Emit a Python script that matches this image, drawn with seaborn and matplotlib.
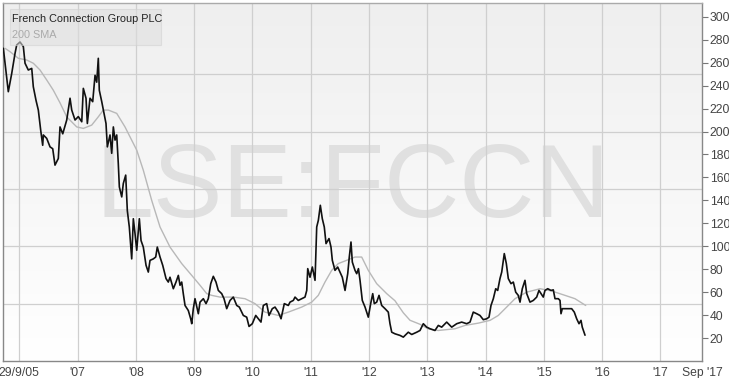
import numpy as np
import pandas as pd
import matplotlib
matplotlib.use("Agg")
import matplotlib.pyplot as plt
from matplotlib.colors import LinearSegmentedColormap
from matplotlib.patches import Rectangle
import seaborn as sns

# ---- data (decimal years, pence) ----
price_t = [2005.726, 2005.811, 2005.870, 2005.926, 2005.955, 2006.012, 2006.069, 2006.098, 2006.154, 2006.213,
           2006.240, 2006.287, 2006.326, 2006.367, 2006.401, 2006.412, 2006.470, 2006.527, 2006.573, 2006.612,
           2006.669, 2006.698, 2006.745, 2006.813, 2006.870, 2006.899, 2006.956, 2007.012, 2007.071, 2007.098,
           2007.144, 2007.167, 2007.213, 2007.259, 2007.299, 2007.328, 2007.355, 2007.372, 2007.414, 2007.453,
           2007.487, 2007.510, 2007.556, 2007.585, 2007.613, 2007.642, 2007.671, 2007.698, 2007.716, 2007.757,
           2007.784, 2007.825, 2007.853, 2007.887, 2007.928, 2007.956, 2007.985, 2008.014, 2008.059, 2008.088,
           2008.127, 2008.174, 2008.213, 2008.242, 2008.299, 2008.340, 2008.367, 2008.414, 2008.460, 2008.517,
           2008.556, 2008.585, 2008.642, 2008.688, 2008.728, 2008.757, 2008.786, 2008.813, 2008.843, 2008.899,
           2008.940, 2008.958, 2008.985, 2009.014, 2009.071, 2009.100, 2009.157, 2009.203, 2009.242, 2009.284,
           2009.328, 2009.374, 2009.414, 2009.472, 2009.512, 2009.558, 2009.615, 2009.671, 2009.730, 2009.774,
           2009.843, 2009.901, 2009.941, 2009.997, 2010.056, 2010.100, 2010.146, 2010.186, 2010.244, 2010.284,
           2010.340, 2010.387, 2010.443, 2010.490, 2010.546, 2010.615, 2010.644, 2010.701, 2010.730, 2010.786,
           2010.845, 2010.901, 2010.931, 2010.948, 2010.987, 2011.027, 2011.073, 2011.102, 2011.130, 2011.164,
           2011.198, 2011.232, 2011.262, 2011.313, 2011.347, 2011.370, 2011.416, 2011.462, 2011.502, 2011.541,
           2011.588, 2011.634, 2011.661, 2011.690, 2011.713, 2011.759, 2011.788, 2011.818, 2011.845, 2011.884,
           2011.931, 2011.987, 2012.028, 2012.063, 2012.090, 2012.131, 2012.171, 2012.217, 2012.274, 2012.330,
           2012.359, 2012.389, 2012.445, 2012.531, 2012.588, 2012.673, 2012.732, 2012.818, 2012.874, 2012.931,
           2012.989, 2013.046, 2013.131, 2013.188, 2013.246, 2013.332, 2013.418, 2013.504, 2013.589, 2013.675,
           2013.732, 2013.788, 2013.847, 2013.903, 2013.960, 2014.018, 2014.058, 2014.092, 2014.132, 2014.173,
           2014.207, 2014.246, 2014.276, 2014.320, 2014.355, 2014.389, 2014.435, 2014.475, 2014.516, 2014.560,
           2014.590, 2014.629, 2014.675, 2014.705, 2014.761, 2014.818, 2014.876, 2014.915, 2014.950, 2014.989,
           2015.018, 2015.065, 2015.121, 2015.161, 2015.190, 2015.247, 2015.276, 2015.293, 2015.315, 2015.391,
           2015.476, 2015.521, 2015.562, 2015.602, 2015.636, 2015.658, 2015.705]
price_v = [272.5, 234.7, 250.7, 268, 275.4, 278, 274, 259.5, 253.6, 255,
           239, 227, 218.7, 201, 188, 197, 194, 186.6, 185, 170.7,
           176.5, 204, 198, 210, 229, 218.7, 210, 213, 208.5, 237.6,
           229, 207, 229, 226, 249, 243, 263.8, 236, 226, 215.8,
           207, 186.6, 197, 181, 204, 192.5, 197, 172, 151.7, 143,
           154.7, 162, 131, 116.8, 89, 124, 111, 96.5, 124, 105,
           99.3, 83.4, 77.5, 87.7, 89, 90.6, 99.3, 90.6, 83.4, 71.8,
           68.8, 73, 63, 68.8, 74.6, 66, 68.8, 58.7, 48.4, 44,
           36.8, 32.5, 45.6, 54.3, 41.2, 51.3, 54.3, 50, 54.3, 67.4,
           73.8, 68.8, 61.5, 58.7, 54.3, 45.6, 52.8, 55.7, 48.4, 47,
           39.7, 38.2, 30.1, 32.5, 39.7, 36.8, 33.9, 48.4, 50, 39.7,
           45.6, 47, 42.6, 36.8, 50, 48.4, 51.3, 52.8, 55.7, 52.8,
           54.3, 55.7, 61.5, 80.5, 73, 81.9, 70.3, 116.8, 122.6, 135.7,
           124, 116.8, 102.3, 106.7, 99.3, 87.7, 79, 81.9, 77.5, 73,
           61.5, 76.1, 90.6, 103.7, 86.2, 79, 76.1, 80.5, 70.3, 52.8,
           47, 38.2, 50, 58.7, 50, 51.3, 57.2, 48.4, 45.6, 42.6,
           32.5, 25.1, 23.7, 22.3, 20.8, 25.1, 23.1, 25.1, 26.6, 32.5,
           29.5, 28.1, 26.6, 31, 29.5, 33.9, 29.5, 32.5, 33.9, 32.5,
           33.9, 42.6, 41.2, 39.7, 36, 36.8, 38.2, 48.4, 54.3, 63,
           61.5, 71.8, 77.5, 93.6, 84.9, 71.8, 67.4, 68.8, 60, 57.2,
           51.3, 63, 70.3, 58.7, 51.3, 52.8, 55.7, 61.5, 58.7, 55.7,
           61.5, 63, 61.5, 62, 54.3, 54.3, 52.8, 41.2, 45.6, 45.6,
           45.6, 42.6, 36.8, 32.5, 35.4, 29.5, 22.5]

sma_t = [2005.755, 2005.840, 2005.983, 2006.127, 2006.240, 2006.355, 2006.470, 2006.583, 2006.698, 2006.813,
         2006.985, 2007.098, 2007.242, 2007.355, 2007.441, 2007.527, 2007.671, 2007.813, 2008.014, 2008.127,
         2008.271, 2008.414, 2008.585, 2008.786, 2008.958, 2009.100, 2009.215, 2009.301, 2009.443, 2009.671,
         2009.872, 2010.043, 2010.214, 2010.443, 2010.615, 2010.845, 2011.016, 2011.129, 2011.244, 2011.359,
         2011.472, 2011.644, 2011.759, 2011.874, 2011.987, 2012.131, 2012.303, 2012.445, 2012.588, 2012.702,
         2012.874, 2013.016, 2013.188, 2013.475, 2013.646, 2013.874, 2014.075, 2014.217, 2014.361, 2014.504,
         2014.705, 2014.933, 2015.134, 2015.362, 2015.533, 2015.717]
sma_v = [272.5, 269.6, 263.8, 262.3, 259.5, 253.6, 244.9, 236, 225, 212.8,
         204, 202.7, 205.6, 212.8, 218.7, 218.7, 215.8, 204, 183.8, 166.3,
         140, 116.8, 99.3, 84.9, 74.6, 66, 58.7, 57.2, 55.7, 55.7,
         54.3, 50, 42.6, 39.7, 42.6, 47, 51.3, 57.2, 68.8, 79,
         84.9, 88.3, 90.6, 90.6, 79, 67.4, 58.7, 52.5, 42, 35.5,
         32, 28, 26.6, 28.1, 31, 33, 35.4, 39.7, 47, 54.3,
         60, 63, 61, 57.2, 54.3, 48.4]

year_ticks = [2006, 2007, 2008, 2009, 2010, 2011, 2012, 2013, 2014, 2015, 2016, 2017, 2017.712]
year_labels = ["29/9/05", "'07", "'08", "'09", "'10", "'11", "'12", "'13", "'14", "'15", "'16", "'17", "Sep '17"]
y_ticks = list(range(20, 301, 20))
series_name = "French Connection Group PLC"
sma_name = "200 SMA"
watermark = "LSE:FCCN"

# ---- figure ----
sns.set_style("white")
plt.rcParams['font.family'] = ['Liberation Sans', 'DejaVu Sans']

fig = plt.figure(figsize=(7.29, 3.78), dpi=100)
ax = fig.add_axes([3 / 729, 17 / 378, 699 / 729, 358 / 378])
XMIN, XMAX, YMIN, YMAX = 2005.720, 2017.712, 0, 312

# background gradient
cmap = LinearSegmentedColormap.from_list("bg", ["#ffffff", "#efefef"])
grad = np.linspace(0, 1, 256).reshape(-1, 1)
ax.imshow(grad, extent=[0, 1, 0, 1], transform=ax.transAxes, cmap=cmap,
          aspect="auto", origin="lower", zorder=0)

# watermark
ax.text(0.5007, 0.402, watermark, transform=ax.transAxes, ha="center", va="baseline",
        fontsize=75, color="#e0e0e0", zorder=1)

# gridlines
for yv in [50, 100, 150, 200, 250]:
    ax.axhline(yv, color="#cfcfcf", lw=0.9, zorder=2)
for xv in year_ticks[:-1]:
    ax.axvline(xv, color="#cfcfcf", lw=0.9, zorder=2)

df_p = pd.DataFrame({"t": price_t, "v": price_v})
df_s = pd.DataFrame({"t": sma_t, "v": sma_v})
sns.lineplot(data=df_s, x="t", y="v", ax=ax, color="#b8b8b8", linewidth=1.0, estimator=None, zorder=3)
sns.lineplot(data=df_p, x="t", y="v", ax=ax, color="#111111", linewidth=1.2, estimator=None, zorder=4)

ax.set_xlim(XMIN, XMAX)
ax.set_ylim(YMIN, YMAX)
ax.set_xlabel("")
ax.set_ylabel("")

ax.set_xticks(year_ticks)
ax.set_xticklabels(year_labels)
ax.set_xticks([y + 0.5 for y in range(2005, 2018) if XMIN < y + 0.5 < XMAX], minor=True)
ax.tick_params(axis="x", which="major", length=0, pad=4, labelsize=8.7, labelcolor="#444444")
ax.tick_params(axis="x", which="minor", length=4, direction="in", color="#999999", width=0.8)

ax.yaxis.tick_right()
ax.set_yticks(y_ticks)
ax.set_yticklabels([str(v) for v in y_ticks])
ax.tick_params(axis="y", which="major", length=4, direction="out", color="#777777", width=0.8,
               pad=1.5, labelsize=8.7, labelcolor="#444444")

for side, sp in ax.spines.items():
    sp.set_visible(True)
    sp.set_color("#888888")
    sp.set_linewidth(1.0)
ax.spines["top"].set_color("#aaaaaa")

# legend box
ax.add_patch(Rectangle((0.010, 0.883), 0.216, 0.100, transform=ax.transAxes,
                       facecolor="#dedede", alpha=0.55, edgecolor="#d0d0d0", lw=0.8, zorder=6))
ax.text(0.0129, 0.955, series_name, transform=ax.transAxes, ha="left", va="center",
        fontsize=7.8, color="#222222", zorder=7)
ax.text(0.0129, 0.911, sma_name, transform=ax.transAxes, ha="left", va="center",
        fontsize=7.8, color="#aaaaaa", zorder=7)

fig.savefig("out.png", dpi=100)
